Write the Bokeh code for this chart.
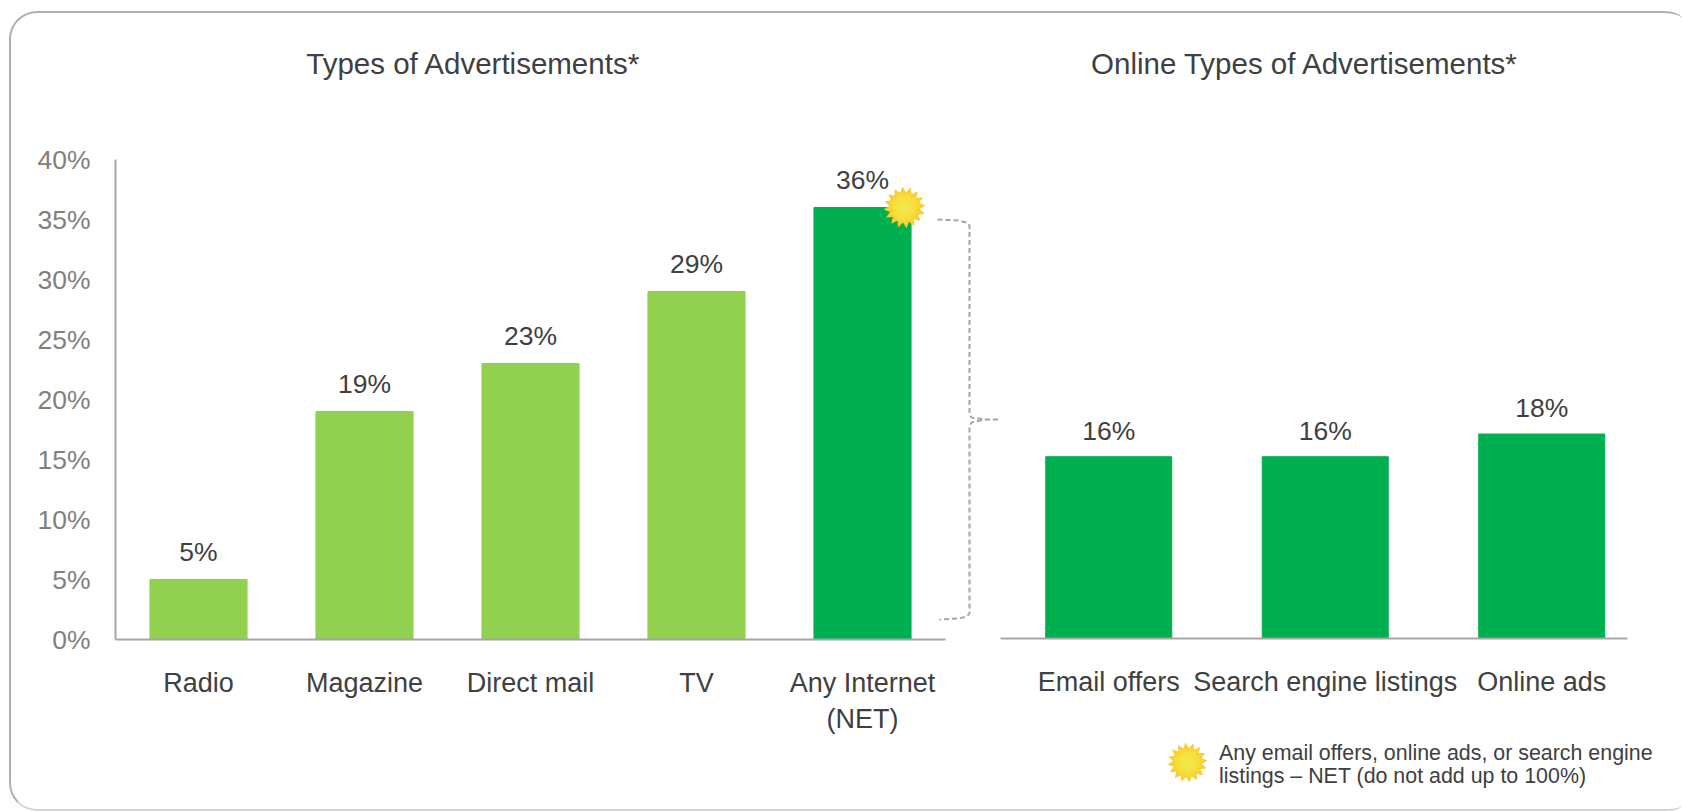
from bokeh.embed import file_html
from bokeh.layouts import column, row
from bokeh.models import FixedTicker, Label, PolyAnnotation, Range1d
from bokeh.plotting import figure
from bokeh.resources import INLINE
import numpy as np

categories_left = ["Radio", "Magazine", "Direct mail", "TV", "Any Internet\n(NET)"]
values_left = [5, 19, 23, 29, 36]
colors_left = ["#92D050", "#92D050", "#92D050", "#92D050", "#00AF50"]
y_ticks = [0, 5, 10, 15, 20, 25, 30, 35, 40]

categories_right = ["Email offers", "Search engine listings", "Online ads"]
values_right = [16, 16, 18]
color_right = "#00AF50"

title_left = "Types of Advertisements*"
title_right = "Online Types of Advertisements*"
note_lines = ["Any email offers, online ads, or search engine",
              "listings \u2013 NET (do not add up to 100%)"]

FONT = "Liberation Sans"
DARK = "#404040"
GREY = "#A6A6A6"
LABEL_PX = "26.5px"

# Page geometry of the rounded card and of the plot frames. Each frame reaches
# the top of the card so the titles and the sun badge sit inside it; the value
# axis is bounded to 0-40 so its line stops at the top tick.
CARD_X, CARD_Y, BORDER = 9, 11, 2
INNER_X, INNER_Y = CARD_X + BORDER, CARD_Y + BORDER
INNER_H = 811 - INNER_Y - BORDER
LEFT_W = 1000 - INNER_X
RIGHT_W = 1682 - 1000
NOTE_TOP = 735
L_FRAME_X, L_BASE_Y = 115, 639
R_FRAME_X, R_AXIS_W, R_BASE_Y = 1000, 627, 638
CAT_W_L, PX_PER_PCT_L = 166, 12
CAT_W_R, PX_PER_PCT_R = 216.5, 11.36


def sun(p, origin, cx, cy, r):
    """Many-pointed sun badge, shaded from an orange rim to a pale centre."""
    n = 16
    ang = np.linspace(0, 2 * np.pi, 2 * n, endpoint=False) + np.pi / 32
    ox, oy = origin
    layers = [(1.0, 0.72, "#F9C92E"), (0.88, 0.76, "#F7D232"), (0.72, 0.86, "#F6DA38"),
              (0.54, 1.0, "#F5E03E"), (0.34, 1.0, "#F3E748")]
    for scale, inner, color in layers:
        radius = np.where(np.arange(2 * n) % 2 == 0, r * scale, r * scale * inner)
        p.add_layout(PolyAnnotation(
            xs=list(cx - ox + radius * np.cos(ang)), ys=list(oy - cy + radius * np.sin(ang)),
            xs_units="screen", ys_units="screen",
            fill_color=color, fill_alpha=1, line_color=None))


def text(p, origin, x, y, s, size, align="center", color=DARK):
    ox, oy = origin
    p.add_layout(Label(x=x - ox, y=oy - y, x_units="screen", y_units="screen", text=s,
                       text_font=FONT, text_font_size=size, text_color=color,
                       text_align=align, text_baseline="middle"))


def style_bottom(axis, ticks, labels):
    axis.ticker = FixedTicker(ticks=ticks)
    axis.major_label_overrides = {t: s for t, s in zip(ticks, labels)}
    axis.major_tick_line_color = None
    axis.minor_tick_line_color = None
    axis.axis_line_color = GREY
    axis.axis_line_width = 2
    axis.major_label_text_font = FONT
    axis.major_label_text_font_size = "27px"
    axis.major_label_text_color = DARK
    axis.major_label_standoff = 22


def value_labels(p, xs, ys, offset):
    p.text(x=xs, y=ys, text=[f"{v}%" for v in ys], y_offset=offset,
           text_align="center", text_baseline="bottom",
           text_font={"value": FONT}, text_font_size=LABEL_PX, text_color=DARK)


# Left panel: the frame runs on past the last category to leave room for the brace.
left_border = L_FRAME_X - INNER_X
frame_w = LEFT_W - left_border
left = figure(width=LEFT_W, height=INNER_H, output_backend="svg", toolbar_location=None,
              x_range=Range1d(-0.5, -0.5 + frame_w / CAT_W_L),
              y_range=Range1d(0, (L_BASE_Y - INNER_Y) / PX_PER_PCT_L),
              min_border_left=left_border, min_border_right=0, min_border_top=0,
              min_border_bottom=INNER_Y + INNER_H - L_BASE_Y,
              outline_line_color=None, background_fill_color=None, border_fill_color=None)
left.grid.visible = False
xs_left = list(range(len(categories_left)))
left.vbar(x=xs_left, top=values_left, bottom=0, width=0.585, color=colors_left)
value_labels(left, xs_left, values_left, -13)
style_bottom(left.xaxis[0], xs_left, categories_left)
left.xaxis[0].bounds = (-0.5, 4.5)

yax = left.yaxis[0]
yax.bounds = (0, 40)
yax.ticker = FixedTicker(ticks=y_ticks)
yax.major_label_overrides = {t: f"{t}%" for t in y_ticks}
yax.major_tick_line_color = None
yax.minor_tick_line_color = None
yax.axis_line_color = GREY
yax.axis_line_width = 2
yax.major_label_text_font = FONT
yax.major_label_text_font_size = LABEL_PX
yax.major_label_text_color = "#7F7F7F"
yax.major_label_standoff = 19

# Dashed brace tying the Internet bar to the online breakdown (page pixels).
brace_px = np.array([937, 958, 966, 969, 969, 971, 985, 999, 985, 971, 969, 969, 966, 958, 939])
brace_py = np.array([219, 220, 222, 225, 414, 417, 419, 419, 419, 422, 426, 613, 616, 618, 619])
left.line(x=list(-0.5 + (brace_px - L_FRAME_X) / CAT_W_L),
          y=list((L_BASE_Y - brace_py) / PX_PER_PCT_L),
          line_color=GREY, line_width=2, line_dash="5 3")

left_origin = (L_FRAME_X, L_BASE_Y)
sun(left, left_origin, 904, 207, 21)
text(left, left_origin, 473, 63, title_left, "29.5px")

# Right panel: the frame spans to the page edge, as the strip below shares its width;
# the category axis is bounded so its line stops short of that edge.
xs_right = list(range(len(categories_right)))
right = figure(width=RIGHT_W, height=NOTE_TOP - INNER_Y, output_backend="svg", toolbar_location=None,
               x_range=Range1d(-0.5, -0.5 + RIGHT_W / CAT_W_R),
               y_range=Range1d(0, (R_BASE_Y - INNER_Y) / PX_PER_PCT_R),
               min_border_left=0, min_border_right=0, min_border_top=0,
               min_border_bottom=NOTE_TOP - R_BASE_Y,
               outline_line_color=None, background_fill_color=None, border_fill_color=None)
right.grid.visible = False
right.yaxis.visible = False
right.vbar(x=xs_right, top=values_right, bottom=0, width=0.582, color=color_right)
value_labels(right, xs_right, values_right, -11)
style_bottom(right.xaxis[0], xs_right, categories_right)
right.xaxis[0].bounds = (-0.5, -0.5 + R_AXIS_W / CAT_W_R)
text(right, (R_FRAME_X, R_BASE_Y), 1304.5, 63, title_right, "29.5px")

# Footnote strip under the right panel, with its own sun badge.
note_bottom = INNER_Y + INNER_H
note = figure(width=RIGHT_W, height=note_bottom - NOTE_TOP, output_backend="svg", toolbar_location=None,
              x_range=Range1d(0, 1), y_range=Range1d(0, 1), x_axis_type=None, y_axis_type=None,
              min_border=0, outline_line_color=None,
              background_fill_color=None, border_fill_color=None)
note.grid.visible = False
note_origin = (R_FRAME_X, note_bottom)
sun(note, note_origin, 1187, 762, 20)
for line, y in zip(note_lines, [752, 775]):
    text(note, note_origin, 1218.5, y, line, "21.4px", align="left")

page = row(left, column(right, note, styles={"gap": "0"}), margin=(CARD_Y, 0, 0, CARD_X),
           styles={"border-top": f"{BORDER}px solid #B0B0B0",
                   "border-left": f"{BORDER}px solid #B0B0B0",
                   "border-bottom": f"{BORDER}px solid #D4D4D4",
                   "border-right": "0 none",
                   "border-top-left-radius": "28px", "border-bottom-left-radius": "28px",
                   "border-top-right-radius": "19px 8px",
                   "border-bottom-right-radius": "14px 6px",
                   "box-sizing": "border-box", "gap": "0"})
open("out.html", "w").write(file_html(page, INLINE))
